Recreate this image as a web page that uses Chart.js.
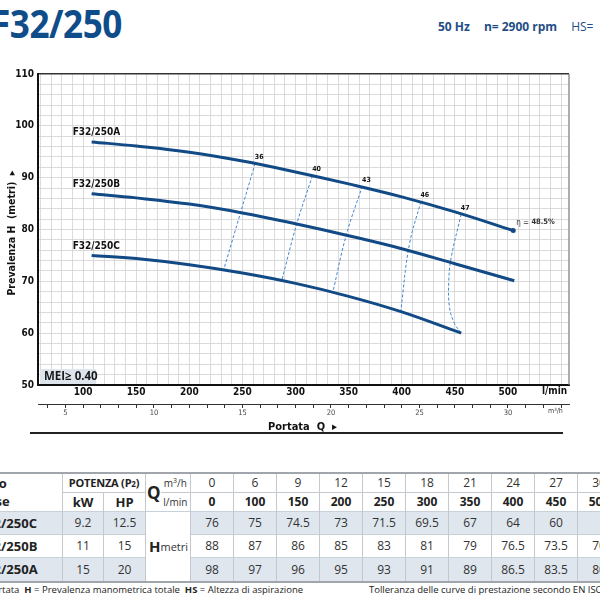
<!DOCTYPE html>
<html>
<head>
<meta charset="utf-8">
<script src="https://cdn.jsdelivr.net/npm/chart.js@4.4.1/dist/chart.umd.min.js"></script>
<style>
  body { margin: 0; width: 600px; height: 600px; overflow: hidden; position: relative; background: #fff; font-family: 'Open Sans', 'Liberation Sans', sans-serif; }
  #title { position: absolute; left: -9px; top: -4px; font-size: 39px; font-weight: 700; color: #0f4c8a; transform: scaleX(0.9); transform-origin: left top; letter-spacing: -0.5px; }
  #head { position: absolute; left: 438px; top: 18px; font-size: 12px; color: #1f4e87; white-space: nowrap; }
  #head b { margin-right: 14px; }
  #wrap { position: absolute; left: 0; top: 0; width: 600px; height: 440px; }
  #rule { position: absolute; left: 30px; top: 432px; width: 533px; height: 2px; background: #222; }
  #tbl { position: absolute; left: -46px; top: 472px; width: 666px; border-collapse: collapse; table-layout: fixed; font-size: 12px; color: #333; }
  #tbl td { text-align: center; padding: 0; border-left: 1px solid #c3c9cf; border-right: 1px solid #c3c9cf; white-space: nowrap; overflow: hidden; }
  #tbl tr.h1 td { height: 16px; border-top: 2px solid #a0a6ac; }
  #tbl tr.h2 td { height: 17px; }
  #tbl tr.d td { border-top: 1px solid #c8d0d8; }
  #tbl tr.shade td.v { background: #dfe6ee; }
  #tbl tr.last td { border-bottom: 2px solid #a0a6ac; }
  #tbl .b { font-weight: 700; color: #222; }
  #tbl .lt { text-align: left; padding-left: 24px; }
  #tbl .sep { border-top: 1px solid #c3c9cf; }
  #tbl .nol { border-left: none; }
  #tbl .nor { border-right: none; }
  #foot1 { position: absolute; left: -31px; top: 583px; font-size: 9.5px; color: #222; white-space: nowrap; }
  #foot2 { position: absolute; left: 369px; top: 583px; font-size: 9.5px; color: #222; white-space: nowrap; }
</style>
</head>
<body>
<div id="title">F32/250</div>
<div id="head"><b>50 Hz</b><b>n= 2900 rpm</b>HS=</div>
<div id="wrap"><canvas id="pump"></canvas></div>
<div id="rule"></div>
<table id="tbl"></table>
<div id="foot1">Q = Portata &nbsp;<b>H</b> = Prevalenza manometrica totale &nbsp;<b>HS</b> = Altezza di aspirazione</div>
<div id="foot2">Tolleranza delle curve di prestazione secondo EN ISO 9906 Grado 3B</div>
<script>
// table values
const qM3h = [0, 6, 9, 12, 15, 18, 21, 24, 27, 30];
const qLmin = [0, 100, 150, 200, 250, 300, 350, 400, 450, 500];
const models = ['F32/250C', 'F32/250B', 'F32/250A'];
const powerKw = ['9.2', '11', '15'];
const powerHp = ['12.5', '15', '20'];
const headTableC = ['76', '75', '74.5', '73', '71.5', '69.5', '67', '64', '60', ''];
const headTableB = ['88', '87', '86', '85', '83', '81', '79', '76.5', '73.5', '70'];
const headTableA = ['98', '97', '96', '95', '93', '91', '89', '86.5', '83.5', '80'];

// curves as drawn (l/min, metri)
const curveQA = [108, 150, 200, 250, 300, 350, 400, 450, 505];
const curveHA = [96.9, 96.1, 94.9, 93.2, 91.1, 88.8, 86.3, 83.4, 79.8];
const curveQB = [108, 150, 200, 250, 300, 350, 400, 450, 506];
const curveHB = [86.9, 86.1, 84.9, 83.2, 81.1, 78.8, 76.3, 73.4, 70.1];
const curveQC = [108, 150, 200, 250, 300, 350, 400, 456];
const curveHC = [75, 74.4, 73.2, 71.6, 69.6, 67.1, 64.1, 60];

// iso-efficiency lines
const effLabels = ['36', '40', '43', '46', '47'];
const effQ = [
  [262, 248, 232],
  [316, 301, 287],
  [363, 348, 335],
  [418, 407, 399],
  [456, 446.5, 444.3, 444.9, 449.6, 456],
];
const effH = [
  [92.8, 83.1, 72.0],
  [90.4, 81.0, 70.1],
  [88.4, 79.1, 67.8],
  [85.4, 76.9, 64.1],
  [83.0, 74.5, 70.2, 65.1, 61.9, 60.0],
];
const curveNames = ['F32/250A', 'F32/250B', 'F32/250C'];
const etaMax = '48.5%';
const meiText = 'MEI\u2265 0.40';

// build table
(function buildTable() {
  const t = document.getElementById('tbl');
  let html = '<colgroup><col style="width:108px"><col style="width:41px"><col style="width:42px"><col style="width:15px"><col style="width:30px">';
  qM3h.forEach(() => { html += '<col style="width:43px">'; });
  html += '</colgroup>';
  html += '<tr class="h1"><td class="b lt" style="font-size:13px">Tipo</td><td colspan="2" class="b" style="font-size:11px;letter-spacing:-0.2px">POTENZA (P<span style="font-size:8px">2</span>)</td>' +
    '<td rowspan="2" class="b nor" style="font-size:17px;text-align:right">Q</td><td class="nol" style="font-size:10px">m<sup style="font-size:7px">3</sup>/h</td>';
  qM3h.forEach((v) => { html += '<td>' + v + '</td>'; });
  html += '</tr><tr class="h2"><td class="b lt" style="font-size:13px">Base</td><td class="b sep" style="font-size:13px">kW</td><td class="b sep" style="font-size:13px">HP</td><td class="sep nol" style="font-size:10px">l/min</td>';
  qLmin.forEach((v) => { html += '<td class="b sep">' + v + '</td>'; });
  html += '</tr>';
  const rows = [headTableC, headTableB, headTableA];
  rows.forEach((r, i) => {
    const cls = 'd' + (i !== 1 ? ' shade' : '') + (i === 2 ? ' last' : '');
    const h = i === 2 ? 25 : 23;
    html += '<tr class="' + cls + '" style="height:' + h + 'px"><td class="v b lt" style="font-size:13px">' + models[i] + '</td><td class="v">' + powerKw[i] + '</td><td class="v">' + powerHp[i] + '</td>';
    if (i === 0) {
      html += '<td rowspan="3" class="b nor" style="font-size:15px;text-align:right;border-bottom:2px solid #a0a6ac">H</td><td rowspan="3" class="nol" style="font-size:11px;text-align:right;padding-right:3px;border-bottom:2px solid #a0a6ac">metri</td>';
    }
    r.forEach((v) => { html += '<td class="v">' + v + '</td>'; });
    html += '</tr>';
  });
  t.innerHTML = html;
})();

const narrow = "'Liberation Sans Narrow', 'DejaVu Sans Condensed', 'Liberation Sans', sans-serif";
const toPts = (qs, hs) => qs.map((q, i) => ({ x: q, y: hs[i] }));

const curveStyle = {
  borderColor: '#124a86',
  borderWidth: 3,
  pointRadius: 0,
  tension: 0.4,
  fill: false,
  order: 0,
};

const datasets = [
  Object.assign({ label: curveNames[0], data: toPts(curveQA, curveHA), pointBackgroundColor: '#124a86', pointBorderWidth: 0 }, curveStyle, { pointRadius: curveQA.map((q, i) => (i === curveQA.length - 1 ? 2.5 : 0)) }),
  Object.assign({ label: curveNames[1], data: toPts(curveQB, curveHB) }, curveStyle),
  Object.assign({ label: curveNames[2], data: toPts(curveQC, curveHC) }, curveStyle),
];
effQ.forEach((qs, i) => {
  datasets.push({
    label: 'eta ' + effLabels[i],
    data: toPts(qs, effH[i]),
    borderColor: '#3f87cf',
    borderWidth: 1,
    borderDash: [3, 2],
    pointRadius: 0,
    tension: 0.4,
    fill: false,
    order: 1,
  });
});

const overlay = {
  id: 'overlay',
  beforeDatasetsDraw(chart) {
    const { ctx, chartArea: a } = chart;
    ctx.save();
    ctx.strokeStyle = '#777';
    ctx.lineWidth = 1.2;
    ctx.beginPath();
    ctx.moveTo(a.right, a.top);
    ctx.lineTo(a.right, a.bottom);
    ctx.stroke();
    ctx.restore();
  },
  afterDatasetsDraw(chart) {
    const { ctx, chartArea: a, scales: { x, y } } = chart;
    ctx.save();
    ctx.fillStyle = '#111';
    ctx.textBaseline = 'middle';

    // curve names
    ctx.font = 'bold 10px ' + narrow;
    ctx.textAlign = 'left';
    [[curveQA, curveHA], [curveQB, curveHB], [curveQC, curveHC]].forEach((c, i) => {
      ctx.fillText(curveNames[i], x.getPixelForValue(c[0][0]) - 19, y.getPixelForValue(c[1][0]) - 9);
    });

    // efficiency values
    ctx.font = 'bold 7px ' + narrow;
    ctx.textAlign = 'center';
    effQ.forEach((qs, i) => {
      ctx.fillText(effLabels[i], x.getPixelForValue(qs[0]) + 4, y.getPixelForValue(effH[i][0]) - 6);
    });

    // eta max
    const ex = x.getPixelForValue(curveQA[curveQA.length - 1]) + 3;
    const ey = y.getPixelForValue(curveHA[curveHA.length - 1]) - 8;
    ctx.textAlign = 'left';
    ctx.font = '8px ' + narrow;
    ctx.fillStyle = '#333';
    ctx.fillText('\u03b7 = ', ex, ey);
    const w = ctx.measureText('\u03b7 = ').width;
    ctx.font = 'bold 7.5px ' + narrow;
    ctx.fillText(etaMax, ex + w, ey);

    // MEI box
    ctx.fillStyle = '#dde4ec';
    ctx.fillRect(a.left + 2, a.bottom - 16, 56, 15);
    ctx.fillStyle = '#1a1a1a';
    ctx.font = "bold 11.5px 'Open Sans', 'Liberation Sans', sans-serif";
    ctx.fillText(meiText, a.left + 6, a.bottom - 8);

    // unit labels
    ctx.font = 'bold 10px ' + narrow;
    ctx.fillStyle = '#111';
    ctx.fillText('l/min', 542, a.bottom + 6);
    ctx.font = '7px ' + narrow;
    ctx.fillStyle = '#444';
    ctx.fillText('m\u00b3/h', 548, 411);

    // axis titles
    ctx.fillStyle = '#111';
    ctx.font = 'bold 11px ' + narrow;
    ctx.fillText('Portata  Q  \u25b8', 268, 427);
    ctx.translate(12, 233);
    ctx.rotate(-Math.PI / 2);
    ctx.textAlign = 'center';
    ctx.font = 'bold 10.5px ' + narrow;
    ctx.fillText('Prevalenza H  (metri)  \u25b8', 0, 0);
    ctx.restore();
  },
};

new Chart(document.getElementById('pump'), {
  type: 'line',
  data: { datasets },
  options: {
    responsive: true,
    maintainAspectRatio: false,
    animation: false,
    layout: { padding: { left: 0, right: 31, top: 74, bottom: 9 } },
    plugins: { legend: { display: false }, tooltip: { enabled: false } },
    scales: {
      x: {
        type: 'linear',
        min: 57.5,
        max: 557.5,
        weight: 0,
        afterBuildTicks: (s) => { s.ticks = []; for (let v = 60; v <= 550; v += 10) s.ticks.push({ value: v }); },
        afterFit: (s) => { s.height = 19; },
        ticks: {
          autoSkip: false,
          maxRotation: 0,
          padding: 1,
          color: '#111',
          font: { family: narrow, size: 10, weight: 'bold' },
          callback: (v) => (v % 50 === 0 && v >= 100 && v <= 500 ? v : ''),
        },
        grid: { color: '#d2d2d2', lineWidth: 0.8, drawTicks: false },
        border: { color: '#111', width: 2 },
      },
      x2: {
        type: 'linear',
        position: 'bottom',
        min: 57.5 * 0.06,
        max: 557.5 * 0.06,
        weight: 1,
        afterBuildTicks: (s) => { s.ticks = []; for (let v = 4; v <= 33; v += 1) s.ticks.push({ value: v }); },
        afterFit: (s) => { s.height = 27; },
        ticks: {
          autoSkip: false,
          maxRotation: 0,
          padding: 1,
          color: '#444',
          font: { family: narrow, size: 7.5 },
          callback: (v) => (v % 5 === 0 ? v : ''),
        },
        grid: { drawOnChartArea: false, drawTicks: true, tickLength: 4, color: '#333', lineWidth: 1 },
        border: { color: '#333', width: 1 },
      },
      y: {
        type: 'linear',
        min: 50,
        max: 110,
        afterBuildTicks: (s) => { s.ticks = []; for (let v = 50; v <= 110; v += 2) s.ticks.push({ value: v }); },
        afterFit: (s) => { s.width = 38; },
        ticks: {
          autoSkip: false,
          padding: 4,
          color: '#111',
          font: { family: narrow, size: 10, weight: 'bold' },
          callback: (v) => (v % 10 === 0 ? v : ''),
        },
        grid: {
          color: (c) => (c.tick && c.tick.value === 110 ? '#333' : '#d2d2d2'),
          lineWidth: (c) => (c.tick && c.tick.value === 110 ? 1.5 : 0.8),
          drawTicks: false,
        },
        border: { color: '#111', width: 2 },
      },
    },
  },
  plugins: [overlay],
});
</script>
</body>
</html>
